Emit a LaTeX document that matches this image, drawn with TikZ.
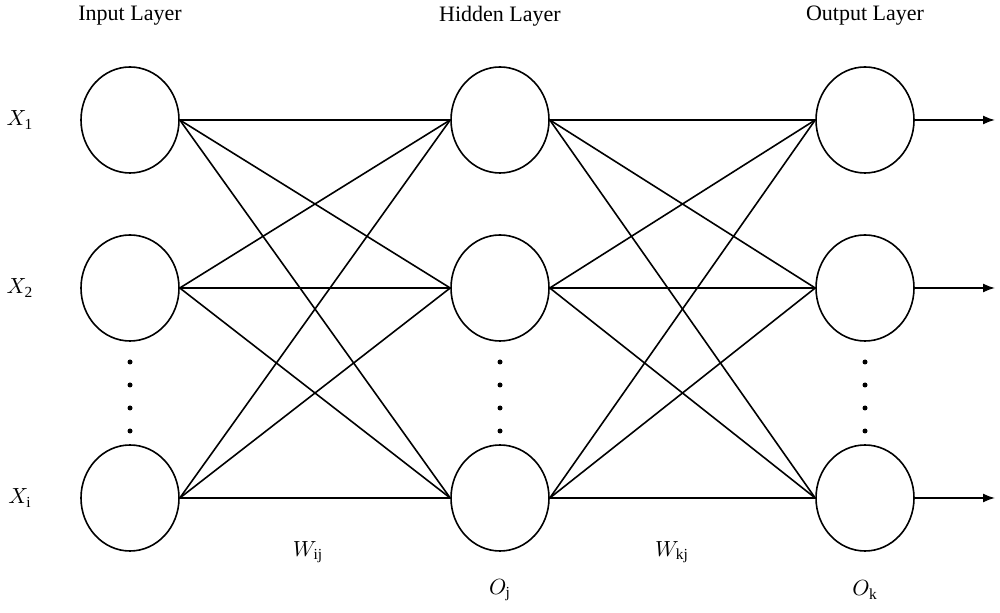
\documentclass[tikz,border=0pt]{standalone}
\usepackage{fontspec}
\setmainfont{Liberation Serif}
\usetikzlibrary{arrows.meta, shapes.geometric}
\begin{document}
\begin{tikzpicture}[
    x=0.5pt, y=-0.5pt,
    font=\fontsize{11}{13}\selectfont,
    % Styles
    neuron/.style={draw, thick, ellipse, minimum width=49pt, minimum height=53pt, inner sep=0pt},
    link/.style={thick},
    arrow/.style={-{Latex[length=6pt]}, thick},
    dot/.style={circle, fill=black, inner sep=0pt, minimum size=2.5pt}
]
    \useasboundingbox (0,0) rectangle (1000,613);

    % --- Neurons ---
    \foreach \name/\x in {in/130, hid/500, out/865} {
        \node[neuron] (\name1) at (\x,120) {};
        \node[neuron] (\name2) at (\x,288) {};
        \node[neuron] (\name3) at (\x,498) {};
        \foreach \y in {362,385,408,431}
            \node[dot] (\name d\y) at (\x,\y) {};
    }

    % --- Layer titles ---
    \node (tin) at (130,16) {Input Layer};
    \node (thid) at (500,16) {Hidden Layer};
    \node (tout) at (865,16) {Output Layer};

    % --- Inputs ---
    \node (x1) at (20,120) {$X_{\mathrm{1}}$};
    \node (x2) at (20,288) {$X_{\mathrm{2}}$};
    \node (x3) at (20,498) {$X_{\mathrm{i}}$};

    % --- Connections ---
    \foreach \a in {1,2,3}
        \foreach \b in {1,2,3} {
            \draw[link] (in\a.east) -- (hid\b.west);
            \draw[link] (hid\a.east) -- (out\b.west);
        }

    % --- Outputs ---
    \foreach \a in {1,2,3} {
        \coordinate (end\a) at (995,0 |- out\a);
        \draw[arrow] (out\a.east) -- (end\a);
    }

    % --- Weights ---
    \node (wij) at (308,552) {$W_{\mathrm{ij}}$};
    \node (oj) at (500,590) {$O_{\mathrm{j}}$};
    \node (wkj) at (672,552) {$W_{\mathrm{kj}}$};
    \node (ok) at (865,590) {$O_{\mathrm{k}}$};
\end{tikzpicture}
\end{document}
